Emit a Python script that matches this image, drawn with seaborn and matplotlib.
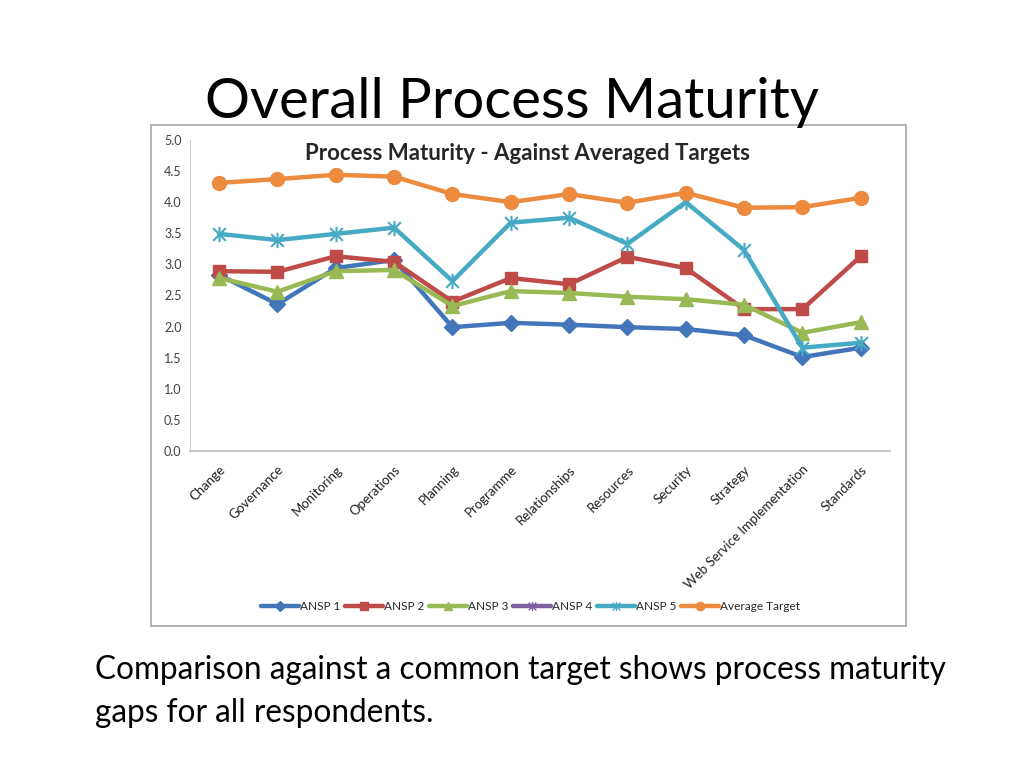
import numpy as np
import pandas as pd
import seaborn as sns
import matplotlib.pyplot as plt
from matplotlib.lines import Line2D
from matplotlib.patches import Rectangle
from matplotlib.path import Path

# categories and series values
categories = ["Change", "Governance", "Monitoring", "Operations", "Planning", "Programme",
              "Relationships", "Resources", "Security", "Strategy",
              "Web Service Implementation", "Standards"]
ansp1 = [2.83, 2.36, 2.94, 3.07, 1.99, 2.06, 2.03, 1.99, 1.96, 1.86, 1.51, 1.66]
ansp2 = [2.89, 2.88, 3.13, 3.04, 2.40, 2.78, 2.68, 3.12, 2.94, 2.28, 2.28, 3.13]
ansp3 = [2.78, 2.56, 2.89, 2.91, 2.33, 2.57, 2.54, 2.48, 2.44, 2.35, 1.90, 2.07]
ansp4 = [np.nan] * 12
ansp5 = [3.49, 3.39, 3.49, 3.59, 2.73, 3.67, 3.75, 3.33, 4.00, 3.23, 1.66, 1.74]
avg_target = [4.31, 4.37, 4.44, 4.41, 4.13, 4.00, 4.13, 3.99, 4.15, 3.91, 3.92, 4.07]
y_ticks = [0.0, 0.5, 1.0, 1.5, 2.0, 2.5, 3.0, 3.5, 4.0, 4.5, 5.0]

# excel style star marker: an x with a vertical bar through it
star = Path([(-1, -1), (1, 1), (-1, 1), (1, -1), (0, -1.2), (0, 1.2)],
            [Path.MOVETO, Path.LINETO, Path.MOVETO, Path.LINETO, Path.MOVETO, Path.LINETO])

series = [
    ("ANSP 1", ansp1, "#4275BA", "D", 8, 1.0),
    ("ANSP 2", ansp2, "#BE4B48", "s", 9, 1.0),
    ("ANSP 3", ansp3, "#98B954", "^", 10, 1.0),
    ("ANSP 4", ansp4, "#7D60A0", star, 11, 1.5),
    ("ANSP 5", ansp5, "#46AAC5", star, 11, 1.5),
    ("Average Target", avg_target, "#EC8A3E", "o", 10, 1.0),
]

sns.set_style("white")
plt.rcParams['font.family'] = ['Lato', 'DejaVu Sans']

fig = plt.figure(figsize=(10.24, 7.68), dpi=100)

# chart frame
fig.patches.append(Rectangle((0.1475, 0.185), 0.7373, 0.6523, transform=fig.transFigure,
                             fill=False, edgecolor="#a6a6a6", linewidth=1.2))

ax = fig.add_axes([0.1855, 0.4128, 0.6836, 0.405])

handles = []
for name, vals, color, marker, ms, mew in series:
    df = pd.DataFrame({"cat": categories, "val": vals})
    if not df["val"].isna().all():
        sns.lineplot(data=df, x="cat", y="val", sort=False, ax=ax, color=color,
                     linewidth=3.2, marker=marker, markersize=ms,
                     markeredgecolor=color, markeredgewidth=mew, legend=False)
    handles.append(Line2D([], [], color=color, linewidth=3.2, marker=marker,
                          markersize=ms * 0.6, markeredgecolor=color, label=name))

ax.set_xlim(-0.5, len(categories) - 0.5)
ax.set_ylim(0, 5)
ax.set_yticks(y_ticks)
ax.set_yticklabels([f"{t:.1f}" for t in y_ticks], fontsize=9, color="#404040")
ax.set_xticks(range(len(categories)))
ax.set_xticklabels(categories, rotation=45, ha="right", rotation_mode="anchor",
                   fontsize=9.5, color="#202020")
ax.tick_params(axis="both", length=0, pad=6)
ax.tick_params(axis="x", pad=9)
ax.set_xlabel("")
ax.set_ylabel("")
for side in ["top", "right"]:
    ax.spines[side].set_visible(False)
ax.spines["left"].set_color("#d0d0d0")
ax.spines["bottom"].set_color("#c8c8c8")
ax.spines["bottom"].set_linewidth(1.5)

fig.text(0.5156, 0.800, "Process Maturity - Against Averaged Targets", fontsize=16,
         fontweight="bold", ha="center", va="center")

fig.legend(handles=handles, loc="center", bbox_to_anchor=(0.518, 0.210), ncol=6,
           frameon=False, fontsize=8.5, handlelength=3.2, columnspacing=0.4,
           handletextpad=0.1)

fig.text(0.5, 0.866, "Overall Process Maturity", ha="center", va="center", fontsize=40.5,
         color="#000000")
fig.text(0.093, 0.128, "Comparison against a common target shows process maturity",
         fontsize=22.7, va="center", color="#000000")
fig.text(0.093, 0.072, "gaps for all respondents.", fontsize=22.7, va="center", color="#000000")

fig.savefig("out.png", dpi=100)
